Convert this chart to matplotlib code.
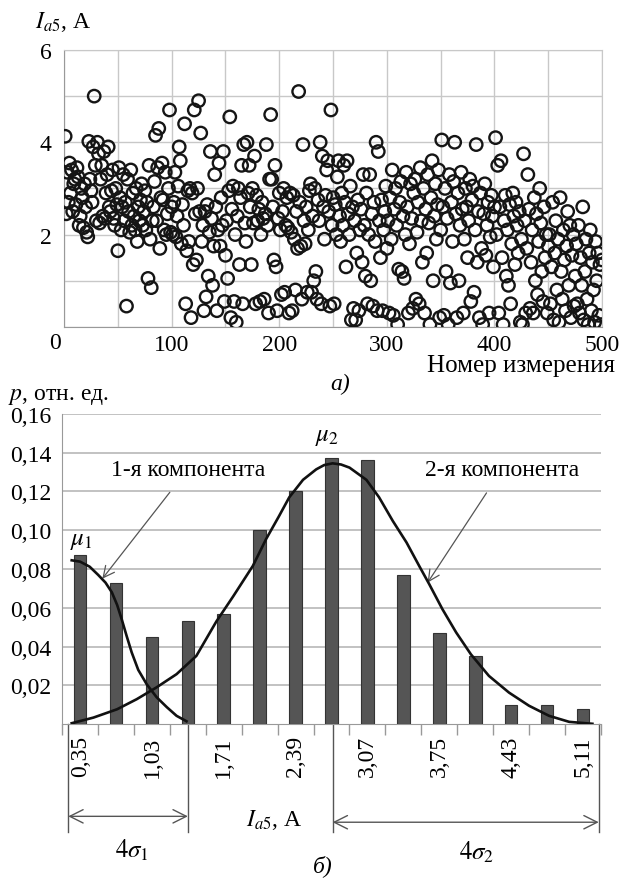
import matplotlib
matplotlib.use('Agg')
import matplotlib.pyplot as plt

plt.rcParams['font.family'] = ['Liberation Serif', 'DejaVu Serif']
plt.rcParams['mathtext.fontset'] = 'stix'

# ---- panel a): scatter of measurements ----
n_meas = list(range(1, 501))
i_a5 = [
    4.13, 2.45, 3.35, 2.7, 3.55, 2.9, 3.4, 2.5, 3.1, 3.2, 2.65, 3.45, 3.25, 2.2, 2.4, 3.0, 2.8, 2.15, 3.1, 2.6, 2.05, 1.95, 4.02, 3.2, 2.95,
    2.7, 3.9, 5.0, 3.5, 2.3, 4.0, 3.75, 2.25, 3.2, 3.5, 2.4, 3.8, 2.35, 2.9, 3.3, 3.9, 2.6, 2.5, 2.95, 3.4, 2.35, 2.2, 3.0, 2.65, 1.65,
    3.45, 2.8, 2.1, 2.6, 3.3, 2.3, 2.7, 0.45, 3.2, 2.5, 2.05, 3.4, 2.2, 2.9, 2.4, 2.1, 3.0, 1.85, 2.6, 2.3, 2.75, 3.1, 2.2, 2.5, 2.95,
    2.1, 2.7, 1.05, 3.5, 1.9, 0.85, 2.3, 2.6, 3.15, 4.15, 2.3, 3.45, 4.3, 1.7, 2.8, 3.55, 2.75, 2.1, 3.35, 2.0, 2.45, 3.0, 4.7, 2.05, 2.6,
    2.0, 2.7, 3.35, 1.95, 2.4, 3.05, 3.9, 3.6, 1.8, 2.65, 2.2, 4.4, 0.5, 1.65, 2.95, 1.85, 3.0, 0.2, 2.9, 1.35, 4.7, 2.45, 1.45, 3.0, 4.9,
    2.5, 4.2, 1.85, 2.2, 0.35, 2.5, 0.65, 2.65, 1.1, 2.05, 3.8, 2.35, 0.9, 1.75, 3.3, 2.6, 0.35, 2.1, 3.55, 1.75, 2.8, 2.2, 3.8, 0.55, 1.55,
    2.3, 1.05, 2.95, 4.55, 0.2, 2.55, 3.05, 0.55, 2.0, 0.1, 2.4, 3.0, 1.35, 2.8, 3.5, 0.5, 3.95, 2.25, 1.85, 4.0, 2.9, 3.5, 2.6, 1.35, 3.0,
    2.25, 3.7, 0.5, 2.85, 2.3, 2.55, 0.55, 2.0, 2.7, 2.35, 0.6, 2.45, 3.95, 2.2, 0.3, 3.2, 4.6, 3.2, 2.6, 1.45, 3.5, 1.3, 0.35, 2.35, 2.9,
    2.1, 0.7, 2.5, 3.0, 0.75, 2.2, 2.8, 2.15, 0.3, 2.9, 2.05, 0.35, 2.85, 1.9, 0.8, 2.5, 1.7, 5.1, 2.7, 1.75, 0.6, 3.95, 2.3, 1.8, 2.6,
    0.75, 2.1, 2.95, 3.1, 0.75, 2.4, 1.0, 3.0, 1.2, 0.6, 2.75, 2.3, 4.0, 0.5, 3.7, 2.6, 1.9, 2.85, 3.4, 3.6, 2.5, 0.45, 4.7, 2.2, 2.8,
    0.5, 2.65, 2.0, 3.25, 3.6, 2.4, 1.85, 2.9, 2.2, 3.5, 2.7, 1.3, 3.6, 2.45, 2.0, 3.05, 0.15, 2.6, 0.4, 2.3, 0.15, 1.6, 2.75, 0.35, 2.1,
    2.55, 1.4, 3.3, 2.2, 1.1, 2.9, 0.5, 2.0, 3.3, 1.0, 2.45, 0.45, 2.7, 1.85, 4.0, 0.35, 3.8, 2.3, 1.5, 2.75, 0.35, 2.1, 2.5, 3.05, 1.7,
    2.3, 0.3, 2.8, 1.9, 3.4, 0.25, 2.55, 3.0, 2.2, 0.05, 1.25, 2.7, 3.15, 1.2, 2.4, 1.05, 2.0, 3.35, 2.6, 0.3, 1.8, 3.1, 2.35, 0.4, 2.9,
    3.2, 0.6, 2.05, 2.7, 0.5, 3.45, 2.3, 1.4, 3.0, 0.3, 2.55, 1.6, 3.3, 2.25, 0.05, 2.8, 3.6, 1.0, 2.4, 3.1, 1.9, 2.65, 3.4, 0.2, 2.1,
    4.05, 2.6, 0.25, 3.0, 1.2, 2.35, 0.05, 3.3, 0.95, 2.7, 1.85, 3.15, 4.0, 2.45, 0.2, 2.9, 1.0, 2.2, 3.35, 2.55, 0.3, 1.9, 3.0, 2.6, 1.5,
    2.3, 3.2, 0.55, 2.75, 3.05, 0.75, 2.1, 3.95, 1.4, 2.5, 0.2, 2.9, 1.7, 0.05, 2.45, 3.1, 1.55, 2.2, 2.7, 0.3, 1.95, 2.85, 2.4, 1.3, 2.6,
    4.1, 2.0, 3.5, 0.3, 2.6, 3.6, 1.5, 0.05, 2.3, 2.85, 1.1, 2.1, 0.9, 2.65, 0.5, 1.8, 2.9, 2.4, 1.35, 2.7, 2.2, 1.6, 2.5, 0.1, 1.9,
    0.05, 3.75, 2.3, 0.3, 1.7, 3.3, 2.55, 0.4, 1.4, 2.1, 0.3, 2.8, 1.0, 2.45, 0.7, 1.85, 3.0, 2.25, 1.2, 0.55, 2.6, 1.5, 2.0, 0.3, 1.75,
    2.0, 0.5, 1.3, 2.7, 0.15, 1.6, 2.3, 0.8, 1.9, 0.1, 2.8, 1.2, 0.6, 2.1, 1.45, 0.35, 1.75, 2.5, 0.9, 2.2, 0.2, 1.55, 2.0, 0.45, 1.1,
    1.8, 0.5, 2.2, 0.3, 1.5, 0.9, 2.6, 0.15, 1.2, 1.9, 0.6, 0.05, 1.6, 2.1, 0.35, 1.4, 0.8, 0.1, 1.85, 1.0, 1.6, 0.25, 1.35, 0.05, 1.45,
]

# ---- panel б): histogram and mixture components ----
bin_centers = [0.35, 0.69, 1.03, 1.37, 1.71, 2.05, 2.39, 2.73, 3.07, 3.41, 3.75, 4.09, 4.43, 4.77, 5.11]
p_rel = [0.087, 0.073, 0.045, 0.053, 0.057, 0.100, 0.120, 0.137, 0.136, 0.077, 0.047, 0.035, 0.010, 0.010, 0.008]
tick_labels = ['0,35', '1,03', '1,71', '2,39', '3,07', '3,75', '4,43', '5,11']
y_labels = ['0,02', '0,04', '0,06', '0,08', '0,10', '0,12', '0,14', '0,16']

comp1_x = [0.27, 0.35, 0.44, 0.52, 0.59, 0.65, 0.70, 0.744, 0.79, 0.838, 0.90, 0.98, 1.074, 1.17, 1.263, 1.357]
comp1_y = [0.0845, 0.0838, 0.0812, 0.0770, 0.0730, 0.0680, 0.0615, 0.0540, 0.0455, 0.0370, 0.0280, 0.0206, 0.0139, 0.0088, 0.0043, 0.0015]
comp2_x = [0.27, 0.476, 0.70, 0.886, 1.074, 1.263, 1.45, 1.64, 1.80, 1.985, 2.11, 2.23, 2.33, 2.46, 2.585, 2.66, 2.74, 2.82,
           2.90, 3.06, 3.18, 3.31, 3.44, 3.56, 3.655, 3.78, 3.91, 4.05, 4.22, 4.41, 4.60, 4.79, 4.98, 5.20]
comp2_y = [0.0005, 0.0034, 0.0077, 0.0129, 0.0190, 0.0258, 0.0352, 0.0530, 0.0660, 0.0816, 0.0954, 0.1070, 0.1170, 0.1260,
           0.1314, 0.1336, 0.1345, 0.1339, 0.1323, 0.1260, 0.1170, 0.1048, 0.0937, 0.0816, 0.0722, 0.0593, 0.0473, 0.0360,
           0.0249, 0.0163, 0.0095, 0.0043, 0.0012, 0.0002]

fig = plt.figure(figsize=(6.22, 8.79), dpi=100)

# top scatter
ax1 = fig.add_axes([0.103, 0.627, 0.865, 0.315])
ax1.scatter(n_meas, i_a5, s=80, facecolors='none', edgecolors='#151515', linewidths=1.7, zorder=3)
ax1.set_xlim(0, 500)
ax1.set_ylim(0, 6)
ax1.set_xticks(range(0, 501, 50))
ax1.set_xticklabels(['' if v % 100 or v == 0 else str(v) for v in range(0, 501, 50)])
ax1.set_yticks(range(0, 7))
ax1.set_yticklabels(['' if v % 2 or v == 0 else str(v) for v in range(0, 7)])
ax1.tick_params(axis='x', length=0, labelsize=17, pad=5)
ax1.tick_params(axis='y', length=0, labelsize=17, pad=9)
ax1.grid(True, color='#c8c8c8', linewidth=1.0)
ax1.set_axisbelow(True)
for s in ['top', 'right']:
    ax1.spines[s].set_color('#c8c8c8')
for s in ['left', 'bottom']:
    ax1.spines[s].set_color('#999999')
ax1.text(-0.017, -0.02, '0', transform=ax1.transAxes, ha='center', va='top', fontsize=17)
fig.text(0.056, 0.968, r'$I_{a5}$, А', fontsize=17, ha='left', va='baseline')
fig.text(0.989, 0.5765, 'Номер измерения', fontsize=18, ha='right', va='baseline')
fig.text(0.547, 0.5563, 'а)', fontsize=17, ha='center', va='baseline', style='italic')

# bottom histogram
ax2 = fig.add_axes([0.1, 0.175, 0.866, 0.353])
ax2.bar(bin_centers, p_rel, width=0.12, color='#555555', edgecolor='#333333', linewidth=0.8, zorder=3)
ax2.plot(comp1_x, comp1_y, color='#111111', linewidth=1.9, zorder=4)
ax2.plot(comp2_x, comp2_y, color='#111111', linewidth=1.9, zorder=4)
ax2.set_xlim(0.18, 5.28)
ax2.set_ylim(0, 0.16)
ax2.set_yticks([0.02, 0.04, 0.06, 0.08, 0.10, 0.12, 0.14, 0.16])
ax2.set_yticklabels(y_labels)
ax2.set_xticks(bin_centers[::2])
ax2.set_xticklabels(tick_labels, rotation=90)
ax2.set_xticks([0.18 + 0.34 * k for k in range(16)], minor=True)
ax2.tick_params(axis='both', which='major', length=0, labelsize=17, pad=8)
ax2.tick_params(axis='x', which='minor', length=8, color='#999999', width=1.0)
ax2.grid(True, axis='y', color='#b8b8b8', linewidth=1.2)
ax2.set_axisbelow(True)
ax2.spines['top'].set_visible(False)
ax2.spines['right'].set_visible(False)
ax2.spines['left'].set_color('#999999')
ax2.spines['bottom'].set_color('#999999')

ax2.text(0.36, 0.095, r'$\mu_1$', fontsize=18, ha='center', va='center')
ax2.text(2.69, 0.1485, r'$\mu_2$', fontsize=18, ha='center', va='center')
ax2.annotate('1-я компонента', xy=(0.56, 0.075), xytext=(1.37, 0.1315), fontsize=17, ha='center', va='center',
             arrowprops=dict(arrowstyle='->', color='#555555', lw=0.9, mutation_scale=20, shrinkA=9, shrinkB=0))
ax2.annotate('2-я компонента', xy=(3.64, 0.073), xytext=(4.345, 0.1315), fontsize=17, ha='center', va='center',
             arrowprops=dict(arrowstyle='->', color='#555555', lw=0.9, mutation_scale=20, shrinkA=9, shrinkB=0))

# dimension lines below the axis
tr = ax2.get_xaxis_transform()
for xv in [0.237, 1.37, 2.74, 5.26]:
    ax2.plot([xv, xv], [0, -0.348], transform=tr, color='#555555', linewidth=1.0, clip_on=False)
ax2.annotate('', xy=(0.237, -0.297), xytext=(1.37, -0.297), xycoords=tr, textcoords=tr,
             arrowprops=dict(arrowstyle='<->', color='#555555', lw=1.0, mutation_scale=24, shrinkA=0, shrinkB=0))
ax2.annotate('', xy=(2.74, -0.316), xytext=(5.26, -0.316), xycoords=tr, textcoords=tr,
             arrowprops=dict(arrowstyle='<->', color='#555555', lw=1.0, mutation_scale=24, shrinkA=0, shrinkB=0))
ax2.text(0.84, -0.405, r'$4\sigma_1$', transform=tr, fontsize=18, ha='center', va='center')
ax2.text(4.10, -0.41, r'$4\sigma_2$', transform=tr, fontsize=18, ha='center', va='center')
ax2.text(2.19, -0.305, r'$I_{a5}$, А', transform=tr, fontsize=17, ha='center', va='center')

fig.text(0.013, 0.545, r'$p$, отн. ед.', fontsize=17, ha='left', va='baseline')
fig.text(0.519, 0.008, 'б)', fontsize=17, ha='center', va='baseline', style='italic')

plt.savefig('out.png', dpi=100)
